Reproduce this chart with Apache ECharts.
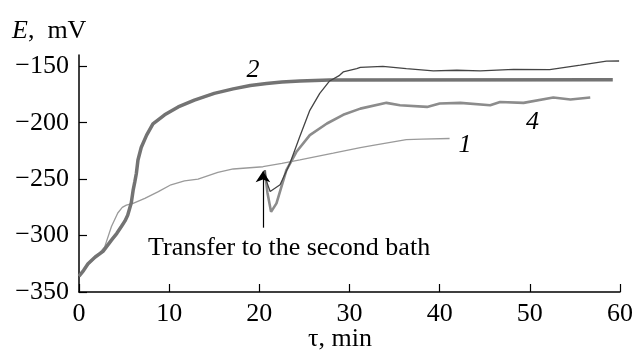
<!DOCTYPE html>
<html><head><meta charset="utf-8">
<script src="https://cdn.jsdelivr.net/npm/echarts@6/dist/echarts.min.js"></script>
<style>html,body{margin:0;padding:0;background:#fff}#c{width:637px;height:350px}</style>
</head><body><div id="c"></div>
<script>
// x ticks, y ticks
const xTicks = [0, 10, 20, 30, 40, 50, 60];
const yTicks = [-350, -300, -250, -200, -150];
// curve data [time (min), E (mV)]
const curve1 = [[0,-336],[1.0,-326],[2.0,-318],[2.85,-310],[3.6,-292],[4.3,-280],[4.8,-275],[5.25,-273],[6.0,-271.5],[7.3,-267],[8.8,-261],[10.2,-255],[11.7,-251.5],[13.2,-250],[15.4,-244],[17.1,-241],[20.4,-239],[22.5,-236],[24.5,-233],[28.2,-227],[31.2,-222],[32.6,-220],[36.3,-215],[38,-214.5],[41.1,-214]];
const curve2 = [[0,-336],[0.5,-331],[1.0,-325],[1.8,-319],[2.66,-314],[3.6,-304],[4.2,-298],[4.7,-292],[5.1,-287],[5.4,-282],[5.8,-271],[6.0,-260],[6.2,-252],[6.36,-245],[6.54,-233],[6.9,-222],[7.5,-211],[8.2,-201],[9.5,-193],[11.0,-186],[12.8,-180],[15.0,-174],[17.1,-170],[19,-167],[20.8,-165.3],[22.5,-164],[24.5,-163],[27.8,-162.2],[59.2,-162]];
const curve3 = [[20.6,-242],[20.8,-252],[21.2,-261],[22.3,-255],[23.4,-236],[24.5,-212],[25.6,-189],[26.7,-174],[27.8,-163],[28.9,-158],[29.3,-155],[30.8,-152],[31.2,-151],[33.7,-150],[36.3,-152],[39.3,-154],[41.9,-153.5],[44.5,-154],[48.2,-152.7],[52.2,-153],[55.6,-149],[58.5,-145.5],[59.9,-145.3]];
const curve4 = [[20.6,-242],[20.9,-262],[21.3,-279],[21.9,-271.5],[23.0,-242],[24.1,-226],[25.6,-211],[27.5,-200.7],[29.3,-193],[31.2,-187.5],[34.1,-182.4],[35.6,-184.5],[38.6,-186],[40.0,-183],[42.3,-182.4],[45.6,-184.5],[46.7,-181.6],[49.3,-182.4],[52.6,-177.7],[54.5,-179.5],[56.7,-177.7]];
// curve number labels [name, t, E]
const curveLabels = [['1',42.8,-220],['2',19.3,-153.5],['3',36.7,-136],['4',50.3,-199.6]];
// annotation
const transferText = 'Transfer to the second bath';
const transferTextPos = [23.3,-311];
const arrowFrom = [20.4,-293];
const arrowTo = [20.4,-243];

const FONT = 'Liberation Serif';
const FS = 26;
const chart = echarts.init(document.getElementById('c'), null, {renderer:'canvas'});
const labelMarks = curveLabels.map(l => ({
  coord:[l[1], l[2]], symbolSize:0, value:l[0],
  label:{show:true, formatter:l[0], fontFamily:FONT, fontStyle:'italic', fontSize:FS, color:'#000', position:'inside'}
}));
labelMarks.push({coord:transferTextPos, symbolSize:0, label:{show:true, formatter:transferText, fontFamily:FONT, fontSize:FS, color:'#000', position:'inside'}});

const option = {
  animation:false,
  grid:{left:79, right:17, top:55, bottom:58, containLabel:false},
  xAxis:{type:'value', min:0, max:60, interval:10,
    axisLine:{lineStyle:{color:'#000', width:1.5}},
    axisTick:{inside:true, length:8, lineStyle:{color:'#000', width:1.2}},
    axisLabel:{fontFamily:FONT, fontSize:FS, color:'#000', margin:9},
    splitLine:{show:false}},
  yAxis:{type:'value', min:-350, max:-140, interval:50,
    axisLine:{show:true, lineStyle:{color:'#000', width:1.5}},
    axisTick:{show:true, inside:true, length:8, customValues:yTicks, lineStyle:{color:'#000', width:1.2}},
    axisLabel:{fontFamily:FONT, fontSize:FS, color:'#000', margin:10, customValues:yTicks, formatter:v => (v<0?'\u2212':'')+Math.abs(v)},
    splitLine:{show:false}},
  graphic:[
    {type:'text', left:12, top:18, style:{text:'{i|E},  mV', font:FS+'px "Liberation Serif"', fill:'#000',
      rich:{i:{fontFamily:FONT, fontStyle:'italic', fontSize:FS, fill:'#000'}}}},
    {type:'text', left:308, top:326, style:{text:'\u03c4, min', font:FS+'px "Liberation Serif"', fill:'#000'}}
  ],
  series:[
    {name:'1', type:'line', data:curve1, showSymbol:false, clip:false, lineStyle:{color:'#9a9a9a', width:1.3}, z:2,
      markLine:{silent:true, symbol:['none','arrow'], symbolSize:11, label:{show:false},
        lineStyle:{color:'#000', width:1.2, type:'solid'},
        data:[[{coord:arrowFrom},{coord:arrowTo}]]},
      markPoint:{silent:true, symbol:'circle', data:labelMarks}},
    {name:'2', type:'line', data:curve2, showSymbol:false, clip:false, lineStyle:{color:'#737373', width:3.5}, z:3},
    {name:'3', type:'line', data:curve3, showSymbol:false, clip:false, lineStyle:{color:'#444', width:1.3}, z:4},
    {name:'4', type:'line', data:curve4, showSymbol:false, clip:false, lineStyle:{color:'#8c8c8c', width:2.6}, z:3}
  ]
};
chart.setOption(option);
</script></body></html>
